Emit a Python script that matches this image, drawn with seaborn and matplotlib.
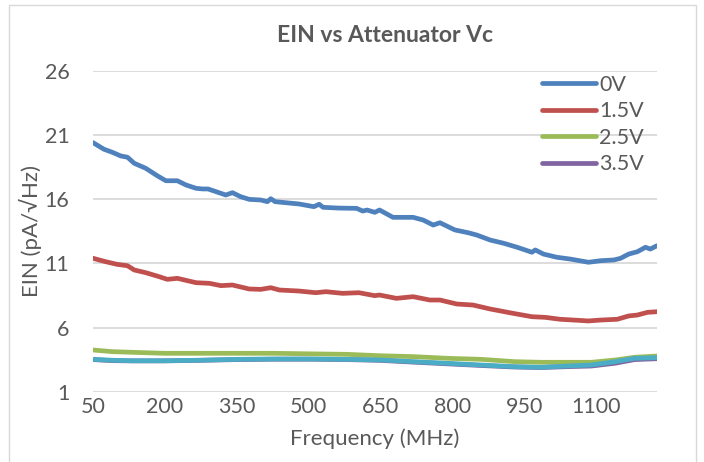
import matplotlib
matplotlib.use("Agg")
import matplotlib.pyplot as plt
import seaborn as sns
import pandas as pd
from matplotlib.patches import Rectangle
from matplotlib.lines import Line2D

# ---- data ----
f_0v = [50, 73, 90, 108, 122, 136, 160, 185, 202, 226, 244, 265, 279, 290, 313, 327, 341, 358, 376, 400,
        414, 421, 430, 452, 480, 511, 522, 530, 564, 600, 613, 622, 638, 648, 676, 690, 718, 739, 760, 774,
        805, 833, 851, 879, 907, 935, 966, 973, 990, 1018, 1046, 1084, 1109, 1137, 1151, 1168, 1186, 1203, 1213, 1227]
ein_0v = [20.4, 19.88, 19.65, 19.36, 19.26, 18.79, 18.4, 17.8, 17.43, 17.43, 17.1, 16.84, 16.79, 16.79, 16.5, 16.32, 16.5, 16.19, 15.98, 15.93,
          15.8, 16.03, 15.8, 15.72, 15.62, 15.41, 15.6, 15.36, 15.3, 15.28, 15.07, 15.15, 14.97, 15.15, 14.58, 14.58, 14.58, 14.37, 13.98, 14.16,
          13.6, 13.38, 13.2, 12.81, 12.56, 12.25, 11.86, 12.04, 11.72, 11.47, 11.33, 11.08, 11.2, 11.26, 11.39, 11.72, 11.9, 12.25, 12.11, 12.37]

f_15v = [50, 76, 100, 122, 136, 160, 188, 205, 226, 265, 293, 317, 341, 376, 400, 421, 439, 480, 515, 536,
         571, 605, 638, 648, 683, 718, 753, 774, 809, 843, 879, 927, 966, 994, 1025, 1053, 1084, 1109, 1144, 1168,
         1186, 1207, 1227]
ein_15v = [11.39, 11.13, 10.92, 10.81, 10.48, 10.27, 9.96, 9.75, 9.83, 9.49, 9.44, 9.26, 9.31, 9.0, 8.97, 9.1, 8.92, 8.84, 8.71, 8.79,
           8.66, 8.71, 8.48, 8.53, 8.27, 8.4, 8.14, 8.14, 7.83, 7.75, 7.44, 7.1, 6.84, 6.79, 6.64, 6.58, 6.51, 6.58, 6.64, 6.9,
           6.97, 7.18, 7.23]

f_low = [50, 90, 130, 200, 270, 350, 430, 500, 580, 650, 720, 790, 860, 930, 985, 1040, 1090, 1140, 1180, 1227]
ein_25v = [4.25, 4.12, 4.07, 3.99, 3.99, 3.99, 3.99, 3.95, 3.91, 3.8, 3.73, 3.6, 3.52, 3.34, 3.29, 3.29, 3.29, 3.47, 3.68, 3.78]
ein_35v = [3.5, 3.42, 3.4, 3.4, 3.44, 3.5, 3.53, 3.53, 3.5, 3.44, 3.3, 3.17, 3.04, 2.92, 2.88, 2.95, 3.0, 3.22, 3.5, 3.57]
ein_extra = [3.52, 3.45, 3.41, 3.41, 3.45, 3.52, 3.55, 3.55, 3.52, 3.47, 3.34, 3.21, 3.08, 2.95, 2.9, 3.0, 3.08, 3.34, 3.6, 3.65]

series_names = ["0V", "1.5V", "2.5V", "3.5V"]
x_ticks = [50, 200, 350, 500, 650, 800, 950, 1100]
y_ticks = [1, 6, 11, 16, 21, 26]

colors = {"0V": "#4F81BD", "1.5V": "#C0504D", "2.5V": "#9BBB59", "3.5V": "#8064A2", "extra": "#4BACC6"}

# ---- build table ----
frames = [
    pd.DataFrame({"freq": f_0v, "ein": ein_0v, "series": "0V"}),
    pd.DataFrame({"freq": f_15v, "ein": ein_15v, "series": "1.5V"}),
    pd.DataFrame({"freq": f_low, "ein": ein_25v, "series": "2.5V"}),
    pd.DataFrame({"freq": f_low, "ein": ein_35v, "series": "3.5V"}),
    pd.DataFrame({"freq": f_low, "ein": ein_extra, "series": "extra"}),
]
df = pd.concat(frames, ignore_index=True)

sns.set_theme(style="white")
plt.rcParams["font.family"] = ["Lato", "DejaVu Sans"]

W, H = 704, 462
fig = plt.figure(figsize=(W / 100, H / 100), dpi=100)
fig.patch.set_facecolor("white")
fig.patches.append(Rectangle((9 / W, 1 - 470 / H), 687 / W, 465 / H, transform=fig.transFigure,
                             fill=False, edgecolor="#D9D9D9", linewidth=1.0))

ax = fig.add_axes([93 / W, 1 - 391.7 / H, 564 / W, 321 / H])

sns.lineplot(data=df, x="freq", y="ein", hue="series", palette=colors,
             hue_order=["0V", "1.5V", "2.5V", "3.5V", "extra"],
             linewidth=3.4, ax=ax, legend=False, sort=False, estimator=None)
for ln in ax.get_lines():
    ln.set_solid_capstyle("round")
    ln.set_solid_joinstyle("round")

ax.set_xlim(50, 1227)
ax.set_ylim(1, 26)
ax.set_xticks(x_ticks)
ax.set_yticks(y_ticks)
ax.yaxis.grid(True, color="#D9D9D9", linewidth=1.3)
ax.xaxis.grid(False)
ax.set_axisbelow(True)
for s in ax.spines.values():
    s.set_visible(False)
ax.tick_params(axis="both", length=0, labelsize=15.5, labelcolor="#595959")
ax.tick_params(axis="y", pad=17)
ax.tick_params(axis="x", pad=4)

ax.set_xlabel("Frequency (MHz)", fontsize=16, color="#595959")
ax.set_ylabel("EIN (pA/√Hz)", fontsize=16, color="#595959")
ax.xaxis.set_label_coords(0.5, -0.115)
ax.yaxis.set_label_coords(-0.09, 0.5)

fig.text(385 / W, 1 - 35 / H, "EIN vs Attenuator Vc", ha="center", va="center",
         fontsize=16.5, fontweight="bold", color="#595959")

handles = [Line2D([0], [0], color=colors[n], linewidth=3.4, solid_capstyle="round") for n in series_names]
leg = ax.legend(handles, series_names, loc="upper left", bbox_to_anchor=(542 / W, 1 - 75 / H),
                bbox_transform=fig.transFigure, frameon=False, fontsize=15.5, handlelength=2.5,
                handletextpad=0.15, labelspacing=0.3, borderpad=0, borderaxespad=0)
for t in leg.get_texts():
    t.set_color("#595959")

fig.savefig("out.png", dpi=100)
